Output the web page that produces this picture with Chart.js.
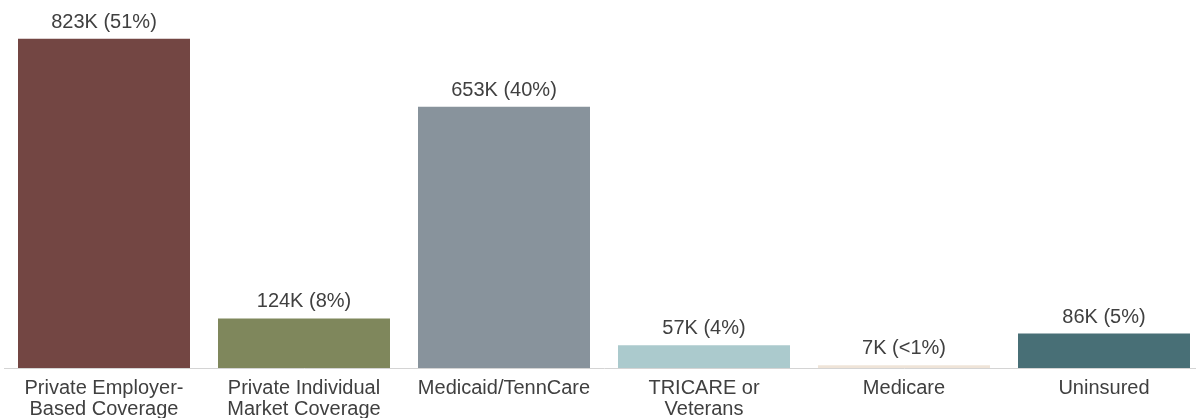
<!DOCTYPE html>
<html>
<head>
<meta charset="utf-8">
<script src="https://cdn.jsdelivr.net/npm/chart.js@4"></script>
<style>
html,body{margin:0;padding:0;background:#fff;overflow:hidden;}
#wrap{width:1204px;height:418px;position:relative;}
</style>
</head>
<body>
<div id="wrap"><canvas id="c"></canvas></div>
<script>
const categories = [
  ["Private Employer-", "Based Coverage"],
  ["Private Individual", "Market Coverage"],
  ["Medicaid/TennCare"],
  ["TRICARE or", "Veterans"],
  ["Medicare"],
  ["Uninsured"]
];
const valuesK = [823, 124, 653, 57, 7, 86];
const valueLabels = ["823K (51%)", "124K (8%)", "653K (40%)", "57K (4%)", "7K (<1%)", "86K (5%)"];
const barColors = ["#734643", "#7f875c", "#88939c", "#abcacd", "#efe4d8", "#486f76"];

const labelPlugin = {
  id: 'valLabels',
  afterDatasetsDraw(chart) {
    const ctx = chart.ctx;
    const meta = chart.getDatasetMeta(0);
    ctx.save();
    ctx.font = '20px "Liberation Sans", Arial, sans-serif';
    ctx.fillStyle = '#404040';
    ctx.textAlign = 'center';
    ctx.textBaseline = 'alphabetic';
    meta.data.forEach((bar, i) => {
      ctx.fillText(valueLabels[i], bar.x, bar.y - 11);
    });
    ctx.restore();
  }
};

new Chart(document.getElementById('c'), {
  type: 'bar',
  data: {
    labels: categories,
    datasets: [{
      data: valuesK,
      backgroundColor: barColors,
      barPercentage: 0.86,
      categoryPercentage: 1.0
    }]
  },
  options: {
    responsive: true,
    maintainAspectRatio: false,
    animation: false,
    layout: { padding: { top: 0, left: 4, right: 0, bottom: 0 } },
    plugins: { legend: { display: false }, tooltip: { enabled: false } },
    scales: {
      y: { display: false, min: 0, max: 920 },
      x: {
        grid: { display: false, drawTicks: false },
        border: { display: true, color: '#d4d4d4', width: 1 },
        ticks: {
          color: '#404040',
          font: { family: '"Liberation Sans", Arial, sans-serif', size: 20, lineHeight: 1.05 },
          padding: 10,
          maxRotation: 0,
          autoSkip: false
        },
        afterFit(s) { s.height = 50; }
      }
    }
  },
  plugins: [labelPlugin]
});
</script>
</body>
</html>
